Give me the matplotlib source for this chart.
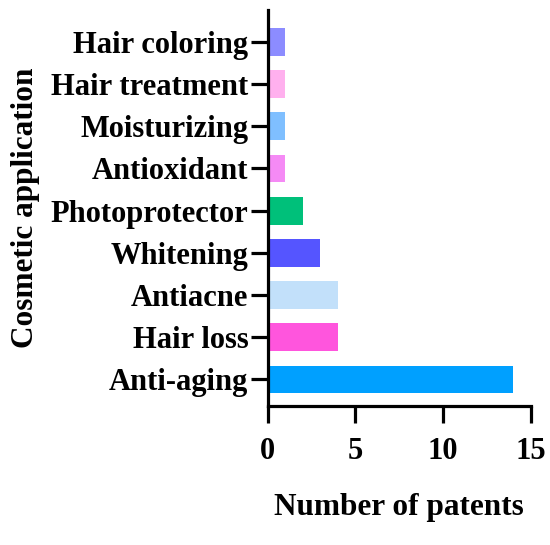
import matplotlib
matplotlib.use('Agg')
import matplotlib.pyplot as plt

# data (bottom to top)
applications = ['Anti-aging', 'Hair loss', 'Antiacne', 'Whitening', 'Photoprotector',
                'Antioxidant', 'Moisturizing', 'Hair treatment', 'Hair coloring']
patents = [14, 4, 4, 3, 2, 1, 1, 1, 1]
colors = ['#00A0FF', '#FF55DD', '#C2E0FA', '#5555FF', '#00C07A',
          '#F58AF5', '#7FBFFF', '#FFB0EE', '#8C8CFF']

plt.rcParams['font.family'] = ['Liberation Serif', 'DejaVu Serif']
plt.rcParams['font.weight'] = 'bold'

fig = plt.figure(figsize=(5.5, 5.45), dpi=100)
ax = fig.add_axes([0.487, 0.255, 0.478, 0.727])

ypos = range(len(applications))
ax.barh(ypos, patents, height=0.66, color=colors)

ax.set_xlim(0, 15)
ax.set_ylim(-0.63, 8.76)
ax.set_xticks([0, 5, 10, 15])
ax.set_yticks(list(ypos))
ax.set_yticklabels(applications)

for s in ['top', 'right']:
    ax.spines[s].set_visible(False)
for s in ['left', 'bottom']:
    ax.spines[s].set_linewidth(2.3)
ax.tick_params(width=2.3, length=12, labelsize=22)
ax.tick_params(axis='x', pad=10)
ax.tick_params(axis='y', pad=2)

ax.set_xlabel('Number of patents', fontsize=22.5, fontweight='bold', labelpad=20)
ax.set_ylabel('Cosmetic application', fontsize=22.5, fontweight='bold', labelpad=8)

fig.savefig('out.png', dpi=100)
